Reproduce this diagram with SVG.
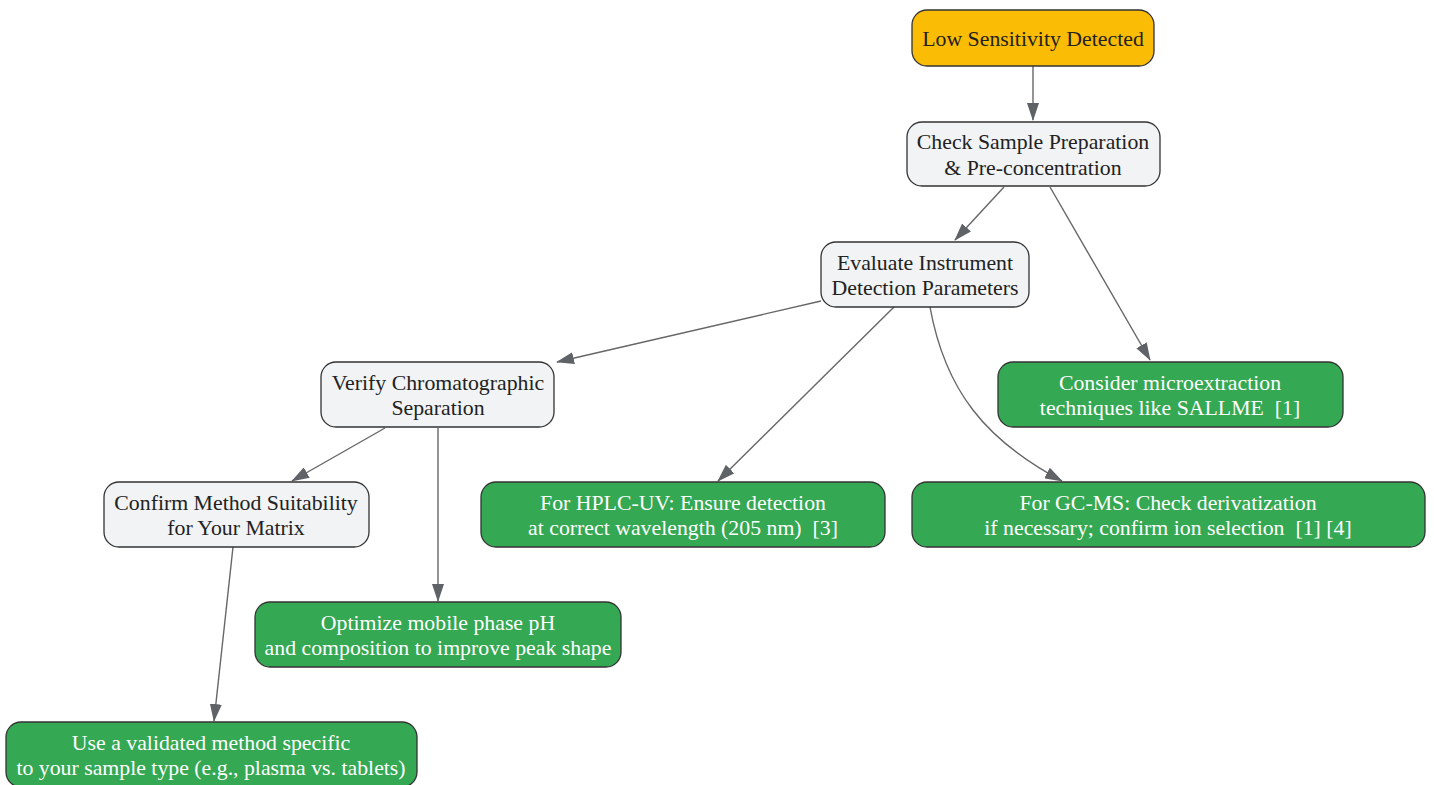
<svg xmlns="http://www.w3.org/2000/svg" width="1434" height="785" viewBox="0 0 1434 785">
<style>
.n rect{stroke:#333;stroke-width:1.3}
.g rect{fill:#f1f3f5}
.y rect{fill:#fbbc05}
.gr rect{fill:#34a853}
text{font-family:"Liberation Serif","Times New Roman",serif;font-size:21.8px;text-anchor:middle;white-space:pre}
.g text,.y text{fill:#222}
.gr text{fill:#fff}
.e path{fill:none;stroke:#666;stroke-width:1.4}
</style>
<defs>
<marker id="a" viewBox="0 0 18 12" refX="17" refY="6" markerWidth="18" markerHeight="12" markerUnits="userSpaceOnUse" orient="auto">
<path d="M0,0 L18,6 L0,12 z" fill="#5f6368"/>
</marker>
</defs>
<g class="e">
<path d="M1033,66 L1033,120" marker-end="url(#a)"/>
<path d="M1004,187 L955,240" marker-end="url(#a)"/>
<path d="M1050,187 L1150,360" marker-end="url(#a)"/>
<path d="M821,301 L557,362" marker-end="url(#a)"/>
<path d="M894,307 L718,481" marker-end="url(#a)"/>
<path d="M930,307 C945,390 985,440 1062,481" marker-end="url(#a)"/>
<path d="M385,428 L292,481" marker-end="url(#a)"/>
<path d="M438,428 L438,601" marker-end="url(#a)"/>
<path d="M233,547 L214,721" marker-end="url(#a)"/>
</g>
<g id="n1" class="n y"><rect x="912" y="10" width="242" height="56" rx="15"/><text x="1033" y="46">Low Sensitivity Detected</text></g>
<g id="n2" class="n g"><rect x="907" y="122" width="253" height="64" rx="15"/><text x="1033" y="149">Check Sample Preparation</text><text x="1033" y="175">&amp; Pre-concentration</text></g>
<g id="n3" class="n g"><rect x="821" y="242" width="208" height="65" rx="15"/><text x="925" y="270">Evaluate Instrument</text><text x="925" y="295">Detection Parameters</text></g>
<g id="n4" class="n g"><rect x="321" y="362" width="233" height="65" rx="15"/><text x="438" y="390">Verify Chromatographic</text><text x="438" y="415">Separation</text></g>
<g id="n5" class="n gr"><rect x="998" y="362" width="345" height="65" rx="15"/><text x="1170" y="390">Consider microextraction</text><text x="1170" y="415">techniques like SALLME  [1]</text></g>
<g id="n6" class="n g"><rect x="104" y="482" width="265" height="65" rx="15"/><text x="236" y="510">Confirm Method Suitability</text><text x="236" y="535">for Your Matrix</text></g>
<g id="n7" class="n gr"><rect x="481" y="482" width="404" height="65" rx="15"/><text x="683" y="510">For HPLC-UV: Ensure detection</text><text x="683" y="535">at correct wavelength (205 nm)  [3]</text></g>
<g id="n8" class="n gr"><rect x="912" y="482" width="513" height="65" rx="15"/><text x="1168" y="510">For GC-MS: Check derivatization</text><text x="1168" y="535">if necessary; confirm ion selection  [1] [4]</text></g>
<g id="n9" class="n gr"><rect x="255" y="602" width="366" height="65" rx="15"/><text x="438" y="630">Optimize mobile phase pH</text><text x="438" y="655">and composition to improve peak shape</text></g>
<g id="n10" class="n gr"><rect x="6" y="722" width="411" height="65" rx="15"/><text x="211" y="750">Use a validated method specific</text><text x="211" y="775">to your sample type (e.g., plasma vs. tablets)</text></g>
</svg>
